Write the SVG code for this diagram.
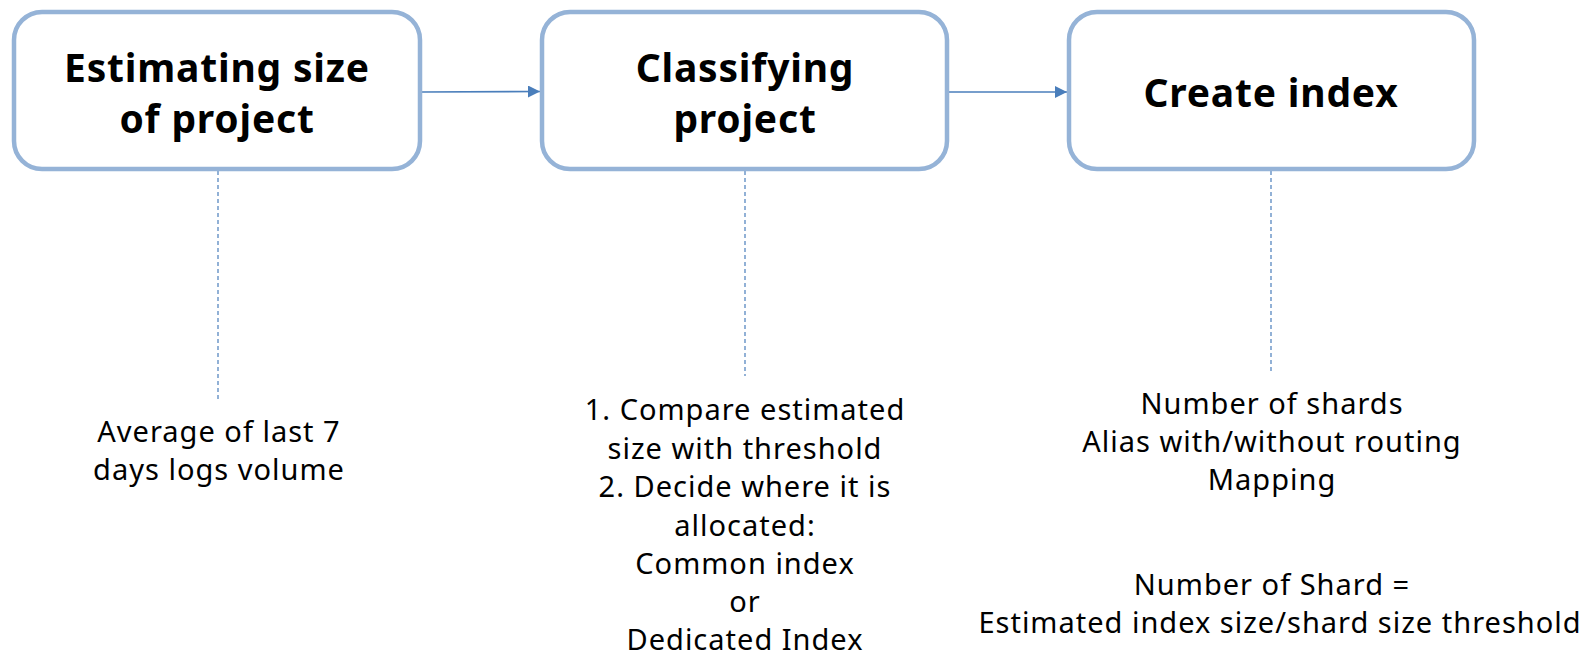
<svg xmlns="http://www.w3.org/2000/svg" width="1596" height="655" viewBox="0 0 1596 655">
<defs>
<style>
.box{fill:#fff;stroke:#95B3D7;stroke-width:4.5}
.title{font-family:"Noto Sans","Liberation Sans",sans-serif;font-weight:bold;font-size:39px;letter-spacing:0.8px;fill:#000;text-anchor:middle}
.body{font-family:"Noto Sans","Liberation Sans",sans-serif;font-size:29px;letter-spacing:1px;fill:#000;text-anchor:middle}
.arrow{stroke:#4A7EBB;stroke-width:1.6;fill:none}
.dash{stroke:#4A7EBB;stroke-width:1.2;stroke-dasharray:4 3;fill:none}
</style>
<marker id="ah" viewBox="0 0 10 10" refX="10" refY="5" markerWidth="14" markerHeight="12" markerUnits="userSpaceOnUse" orient="auto">
<path d="M0,0 L10,5 L0,10 z" fill="#4A7EBB"/>
</marker>
</defs>
<rect width="1596" height="655" fill="#fff"/>
<g id="connectors">
<line class="arrow" x1="422" y1="92" x2="540" y2="91.5" marker-end="url(#ah)"/>
<line class="arrow" x1="949" y1="92" x2="1067" y2="92" marker-end="url(#ah)"/>
<line class="dash" x1="218" y1="171" x2="218" y2="402"/>
<line class="dash" x1="745" y1="171" x2="745" y2="376"/>
<line class="dash" x1="1271" y1="171" x2="1271" y2="374"/>
</g>
<g id="node-estimating">
<rect class="box" x="14" y="12" width="406" height="157" rx="28"/>
<text class="title" x="217" y="82">Estimating size</text>
<text class="title" x="217" y="133">of project</text>
</g>
<g id="node-classifying">
<rect class="box" x="542" y="12" width="405" height="157" rx="28"/>
<text class="title" x="745" y="82">Classifying</text>
<text class="title" x="745" y="133">project</text>
</g>
<g id="node-create">
<rect class="box" x="1069" y="12" width="405" height="157" rx="28"/>
<text class="title" x="1271" y="107">Create index</text>
</g>
<g id="note-estimating">
<text class="body" x="219" y="442">Average of last 7</text>
<text class="body" x="219" y="480">days logs volume</text>
</g>
<g id="note-classifying">
<text class="body" x="745" y="420">1. Compare estimated</text>
<text class="body" x="745" y="459">size with threshold</text>
<text class="body" x="745" y="497">2. Decide where it is</text>
<text class="body" x="745" y="536">allocated:</text>
<text class="body" x="745" y="574">Common index</text>
<text class="body" x="745" y="612">or</text>
<text class="body" x="745" y="650">Dedicated Index</text>
</g>
<g id="note-create">
<text class="body" x="1272" y="414">Number of shards</text>
<text class="body" x="1272" y="452">Alias with/without routing</text>
<text class="body" x="1272" y="490">Mapping</text>
<text class="body" x="1272" y="595">Number of Shard =</text>
<text class="body" x="1280" y="633">Estimated index size/shard size threshold</text>
</g>
</svg>
